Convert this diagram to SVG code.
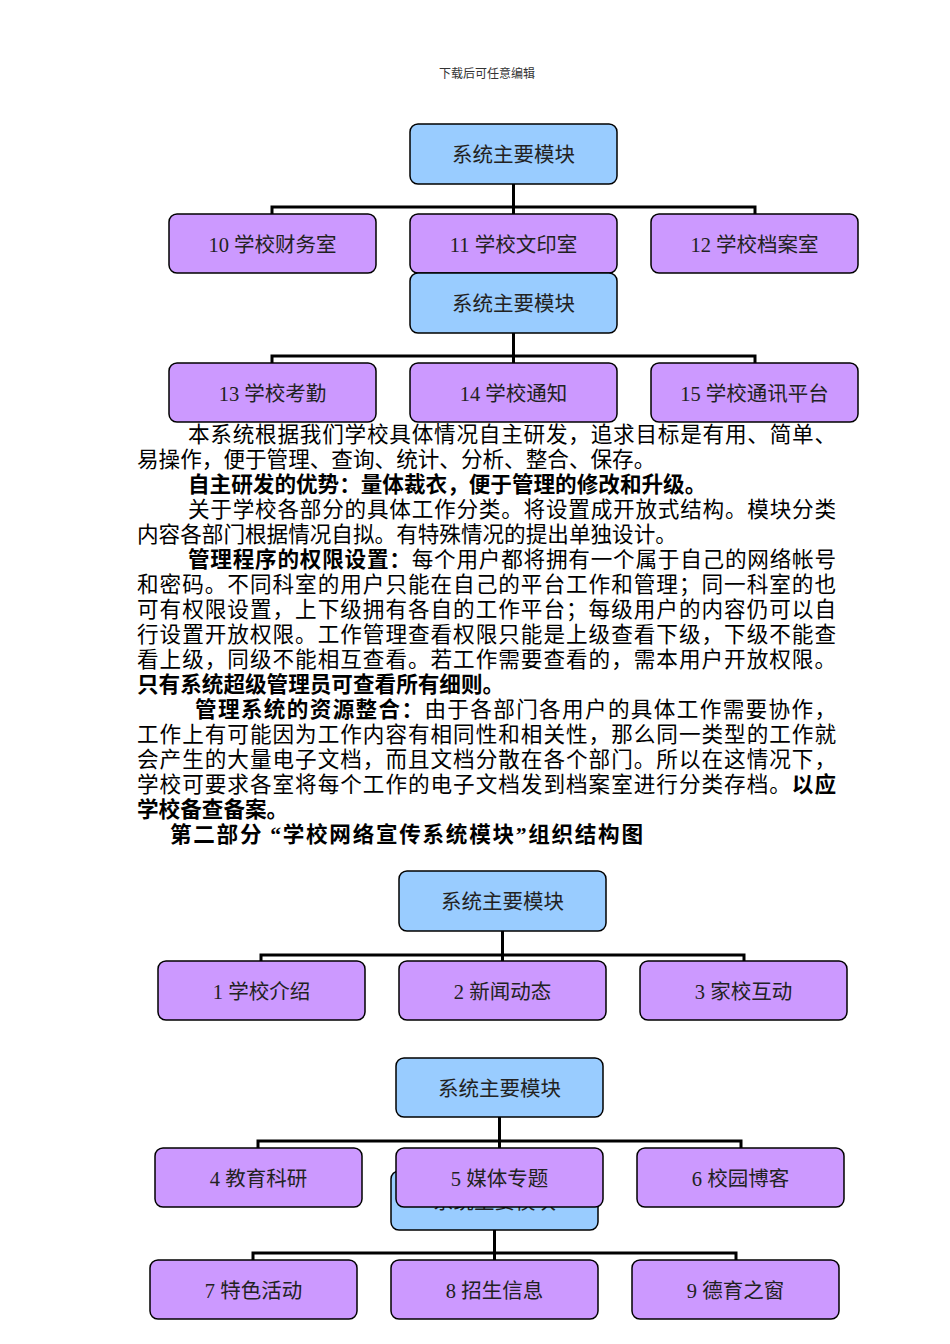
<svg xmlns="http://www.w3.org/2000/svg" width="950" height="1344" viewBox="0 0 950 1344">
<style>
.root{fill:#99CCFF;stroke:#000;stroke-width:1.5}
.leaf{fill:#CC99FF;stroke:#000;stroke-width:1.5}
.bt{font-family:"Liberation Serif","Noto Sans CJK SC",serif;font-size:20.5px;fill:#222;text-anchor:middle}
.conn{fill:none;stroke:#000;stroke-width:3}
.body{font-family:"Liberation Serif","Noto Sans CJK SC",serif;font-size:21.6px;fill:#000}
.b{font-weight:bold}
.hdr{font-family:"Liberation Serif","Noto Sans CJK SC",serif;font-size:12px;fill:#333;text-anchor:middle}
</style>
<rect width="950" height="1344" fill="#fff"/>
<text class="hdr" x="487" y="78">下载后可任意编辑</text>

<g id="connectors">
<path class="conn" d="M513.5 184V214M272 214V207H755V214"/>
<path class="conn" d="M513.5 333V363M272 363V356H755V363"/>
<path class="conn" d="M502.5 931V961M261 961V955H744V961"/>
<path class="conn" d="M499.5 1117V1148M258 1148V1141H741V1148"/>
<path class="conn" d="M494.5 1230V1260M253 1260V1253H736V1260"/>
</g>

<g id="root1"><rect class="root" x="410" y="124" width="207" height="60" rx="8"/><text class="bt" x="513.5" y="162">系统主要模块</text></g>
<g id="n10"><rect class="leaf" x="169" y="214" width="207" height="59" rx="8"/><text class="bt" x="272.5" y="252">10 学校财务室</text></g>
<g id="n11"><rect class="leaf" x="410" y="214" width="207" height="59" rx="8"/><text class="bt" x="513.5" y="252">11 学校文印室</text></g>
<g id="n12"><rect class="leaf" x="651" y="214" width="207" height="59" rx="8"/><text class="bt" x="754.5" y="252">12 学校档案室</text></g>

<g id="root2"><rect class="root" x="410" y="273" width="207" height="60" rx="8"/><text class="bt" x="513.5" y="311">系统主要模块</text></g>
<g id="n13"><rect class="leaf" x="169" y="363" width="207" height="59" rx="8"/><text class="bt" x="272.5" y="401">13 学校考勤</text></g>
<g id="n14"><rect class="leaf" x="410" y="363" width="207" height="59" rx="8"/><text class="bt" x="513.5" y="401">14 学校通知</text></g>
<g id="n15"><rect class="leaf" x="651" y="363" width="207" height="59" rx="8"/><text class="bt" x="754.5" y="401">15 学校通讯平台</text></g>

<g id="bodytext" class="body">
<text x="188" y="442" textLength="648" lengthAdjust="spacing">本系统根据我们学校具体情况自主研发，追求目标是有用、简单、</text>
<text x="137" y="467">易操作，便于管理、查询、统计、分析、整合、保存。</text>
<text x="188" y="492" class="b">自主研发的优势：量体裁衣，便于管理的修改和升级。</text>
<text x="188" y="517" textLength="648" lengthAdjust="spacing">关于学校各部分的具体工作分类。将设置成开放式结构。模块分类</text>
<text x="137" y="542">内容各部门根据情况自拟。有特殊情况的提出单独设计。</text>
<text x="188" y="567" textLength="648" lengthAdjust="spacing"><tspan class="b">管理程序的权限设置：</tspan>每个用户都将拥有一个属于自己的网络帐号</text>
<text x="137" y="592" textLength="699" lengthAdjust="spacing">和密码。不同科室的用户只能在自己的平台工作和管理；同一科室的也</text>
<text x="137" y="617" textLength="699" lengthAdjust="spacing">可有权限设置，上下级拥有各自的工作平台；每级用户的内容仍可以自</text>
<text x="137" y="642" textLength="699" lengthAdjust="spacing">行设置开放权限。工作管理查看权限只能是上级查看下级，下级不能查</text>
<text x="137" y="667" textLength="699" lengthAdjust="spacing">看上级，同级不能相互查看。若工作需要查看的，需本用户开放权限。</text>
<text x="137" y="692" class="b">只有系统超级管理员可查看所有细则。</text>
<text x="195" y="717" textLength="641" lengthAdjust="spacing"><tspan class="b">管理系统的资源整合：</tspan>由于各部门各用户的具体工作需要协作，</text>
<text x="137" y="742" textLength="699" lengthAdjust="spacing">工作上有可能因为工作内容有相同性和相关性，那么同一类型的工作就</text>
<text x="137" y="767" textLength="699" lengthAdjust="spacing">会产生的大量电子文档，而且文档分散在各个部门。所以在这情况下，</text>
<text x="137" y="792" textLength="699" lengthAdjust="spacing">学校可要求各室将每个工作的电子文档发到档案室进行分类存档。<tspan class="b">以应</tspan></text>
<text x="137" y="817" class="b">学校备查备案。</text>
<text x="170" y="842" class="b" textLength="473" lengthAdjust="spacing">第二部分 “学校网络宣传系统模块”组织结构图</text>
</g>

<g id="root3"><rect class="root" x="399" y="871" width="207" height="60" rx="8"/><text class="bt" x="502.5" y="909">系统主要模块</text></g>
<g id="n1"><rect class="leaf" x="158" y="961" width="207" height="59" rx="8"/><text class="bt" x="261.5" y="999">1 学校介绍</text></g>
<g id="n2"><rect class="leaf" x="399" y="961" width="207" height="59" rx="8"/><text class="bt" x="502.5" y="999">2 新闻动态</text></g>
<g id="n3"><rect class="leaf" x="640" y="961" width="207" height="59" rx="8"/><text class="bt" x="743.5" y="999">3 家校互动</text></g>

<g id="root4"><rect class="root" x="396" y="1058" width="207" height="59" rx="8"/><text class="bt" x="499.5" y="1096">系统主要模块</text></g>
<g id="root5"><rect class="root" x="391" y="1171" width="207" height="59" rx="8"/><text class="bt" x="494.5" y="1209">系统主要模块</text></g>
<g id="n4"><rect class="leaf" x="155" y="1148" width="207" height="59" rx="8"/><text class="bt" x="258.5" y="1186">4 教育科研</text></g>
<g id="n5"><rect class="leaf" x="396" y="1148" width="207" height="59" rx="8"/><text class="bt" x="499.5" y="1186">5 媒体专题</text></g>
<g id="n6"><rect class="leaf" x="637" y="1148" width="207" height="59" rx="8"/><text class="bt" x="740.5" y="1186">6 校园博客</text></g>

<g id="n7"><rect class="leaf" x="150" y="1260" width="207" height="59" rx="8"/><text class="bt" x="253.5" y="1298">7 特色活动</text></g>
<g id="n8"><rect class="leaf" x="391" y="1260" width="207" height="59" rx="8"/><text class="bt" x="494.5" y="1298">8 招生信息</text></g>
<g id="n9"><rect class="leaf" x="632" y="1260" width="207" height="59" rx="8"/><text class="bt" x="735.5" y="1298">9 德育之窗</text></g>
</svg>
